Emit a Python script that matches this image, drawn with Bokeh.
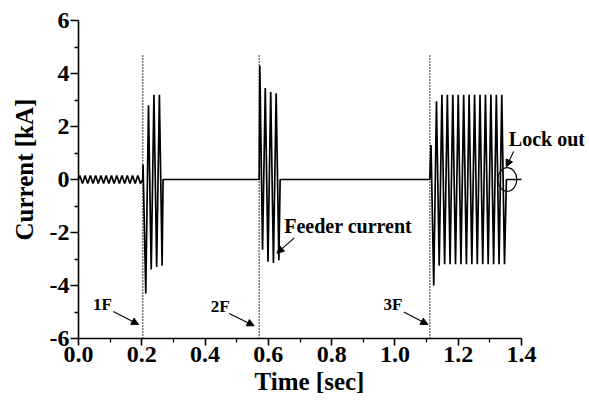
from bokeh.plotting import figure
from bokeh.models import FixedTicker, Arrow, NormalHead, Label, Title
from bokeh.embed import file_html
from bokeh.resources import INLINE

# ---- data ----
load_half_period = 1 / 120   # s, pre-fault load current
fault_half_period = 0.0086   # s, spacing of fault-current peaks

# pre-fault load current half-cycle peaks (kA), 0.0 - 0.2 s
load_peaks = [0.15, -0.15, 0.15, -0.15, 0.15, -0.15, 0.15, -0.15,
              0.15, -0.15, 0.15, -0.15, 0.15, -0.15, 0.15, -0.15,
              0.15, -0.15, 0.15, -0.15, 0.15, -0.15, 0.15, -0.15]

# fault bursts: start time (s), delay of first peak (s), successive half-cycle peaks (kA)
burst_starts = [0.203, 0.571, 1.11]
burst_first_delay = [0.001, 0.002, 0.004]
burst1 = [0.57, -4.3, 2.8, -3.4, 3.2, -3.3, 3.2, -3.25]
burst2 = [4.3, -2.65, 3.45, -3.1, 3.3, -3.15, 3.25, -3.05]
burst3 = [1.3, -4.0, 2.95, -3.25, 3.2, -3.2, 3.2, -3.2, 3.2, -3.2,
          3.2, -3.2, 3.2, -3.2, 3.2, -3.2, 3.2, -3.2, 3.2, -3.2,
          3.2, -3.2, 3.2, -3.2, 3.2, -3.2, 3.2, -3.2]
bursts = [burst1, burst2, burst3]
t_end = 1.4

fault_times = [0.203, 0.571, 1.11]
fault_names = ["1F", "2F", "3F"]
fault_mark_top = 4.7

y_ticks = [-6, -4, -2, 0, 2, 4, 6]
y_minor = [-5, -3, -1, 1, 3, 5]
x_ticks = [0.0, 0.2, 0.4, 0.6, 0.8, 1.0, 1.2, 1.4]
x_minor = [0.1, 0.3, 0.5, 0.7, 0.9, 1.1, 1.3]
x_tick_labels = ["0.0", "0.2", "0.4", "0.6", "0.8", "1.0", "1.2", "1.4"]
y_tick_labels = ["-6", "-4", "-2", "0", "2", "4", "6"]

# ---- build the trace ----
t = [0.0]
cur = [0.0]
for k, v in enumerate(load_peaks):
    t.append((k + 0.5) * load_half_period)
    cur.append(v)
for start, delay, peaks in zip(burst_starts, burst_first_delay, bursts):
    t.append(start)
    cur.append(0.0)
    for k, v in enumerate(peaks):
        t.append(start + delay + k * fault_half_period)
        cur.append(v)
    t.append(start + 2 * delay + (len(peaks) - 1) * fault_half_period + 0.002)
    cur.append(0.0)
t.append(t_end)
cur.append(0.0)

FONT = "Liberation Serif"

p = figure(width=589, height=406, output_backend="svg", toolbar_location=None,
           x_range=(0, 1.599), y_range=(-6, 6),
           min_border_left=77, min_border_right=5, min_border_top=20,
           min_border_bottom=68)
p.outline_line_color = None
p.xgrid.visible = False
p.ygrid.visible = False
p.background_fill_color = "white"
p.border_fill_color = "white"

p.line(t, cur, line_color="black", line_width=1.7)
p.segment(x0=fault_times, y0=[-6] * 3, x1=fault_times, y1=[fault_mark_top] * 3,
          line_color="black", line_width=1.6, line_dash="1 2")

# axes
for ax in (p.xaxis[0], p.yaxis[0]):
    ax.axis_line_color = "black"
    ax.axis_line_width = 1.6
    ax.major_tick_line_color = "black"
    ax.minor_tick_line_color = "black"
    ax.major_tick_line_width = 1.6
    ax.minor_tick_line_width = 1.3
    ax.major_label_text_font = FONT
    ax.major_label_text_font_style = "bold"
    ax.major_label_text_font_size = "24px"
    ax.major_label_text_color = "black"

p.xaxis.ticker = FixedTicker(ticks=x_ticks, minor_ticks=x_minor)
p.yaxis.ticker = FixedTicker(ticks=y_ticks, minor_ticks=y_minor)
p.xaxis.major_label_overrides = {v: s for v, s in zip(x_ticks, x_tick_labels)}
p.yaxis.major_label_overrides = {v: s for v, s in zip(y_ticks, y_tick_labels)}
p.xaxis.bounds = (0, 1.4)
p.xaxis.major_tick_out = 7
p.xaxis.major_tick_in = 0
p.xaxis.minor_tick_in = 0
p.xaxis.minor_tick_out = 4
p.yaxis.major_tick_out = 8
p.yaxis.major_tick_in = 0
p.yaxis.minor_tick_out = 4
p.yaxis.minor_tick_in = 0
p.xaxis.major_label_standoff = 1
p.yaxis.major_label_standoff = 1

# axis titles
p.add_layout(Title(text="Time [sec]", align="left", offset=176, standoff=3,
                   text_font=FONT, text_font_style="bold", text_font_size="25px",
                   text_color="black"), "below")
p.add_layout(Title(text="Current [kA]", align="left", offset=98, standoff=17,
                   text_font=FONT, text_font_style="bold", text_font_size="25px",
                   text_color="black"), "left")

# annotations
def lab(x, y, text, size="17px", align="center"):
    p.add_layout(Label(x=x, y=y, text=text, text_font=FONT, text_font_style="bold",
                       text_font_size=size, text_align=align, text_baseline="middle",
                       text_color="black"))

def arrow(x0, y0, x1, y1):
    p.add_layout(Arrow(x_start=x0, y_start=y0, x_end=x1, y_end=y1, line_width=1.1,
                       line_color="black",
                       end=NormalHead(size=7, fill_color="black", line_color="black")))

lab(0.076, -4.72, fault_names[0])
arrow(0.11, -4.98, 0.19, -5.47)
lab(0.448, -4.8, fault_names[1])
arrow(0.476, -5.06, 0.555, -5.52)
lab(0.994, -4.72, fault_names[2])
arrow(1.028, -5.0, 1.104, -5.47)

lab(0.65, -1.77, "Feeder current", size="20px", align="left")
arrow(0.682, -2.2, 0.627, -2.78)

lab(1.36, 1.51, "Lock out", size="20px", align="left")
arrow(1.375, 1.06, 1.352, 0.48)
p.ellipse(x=[1.355], y=[0.0], width=0.06, height=0.9, fill_color=None,
          line_color="black", line_width=1.2)

open("out.html", "w").write(file_html(p, INLINE))
